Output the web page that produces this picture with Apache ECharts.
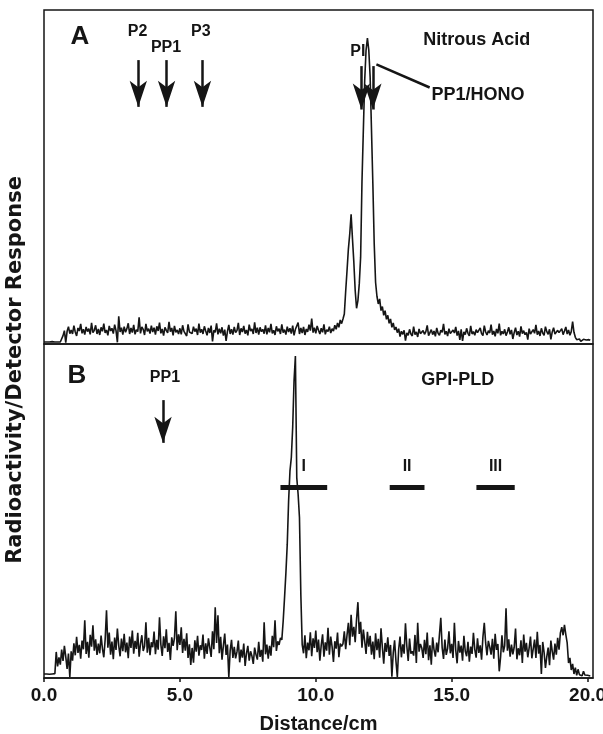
<!DOCTYPE html>
<html><head><meta charset="utf-8">
<script src="https://cdn.jsdelivr.net/npm/echarts@6/dist/echarts.min.js"></script>
<style>html,body{margin:0;padding:0;background:#fff}#c{width:603px;height:734px}</style>
</head><body><div id="c"></div>
<script>
// sampling step of the scanner trace (cm)
const STEP_CM = 0.05;

// Panel A: nitrous acid treated sample (response, arbitrary units 0-100), one row per cm
const responseA = [
 0.6,0.6,0.6,0.5,0.6,0.6,0.7,0.6,0.6,0.7,0.6,0.7,0.6,0.8,2.5,4.0,0.4,3.8,5.2,3.1,
 4.2,3.0,5.5,3.6,2.4,4.8,3.9,6.0,3.2,4.4,2.8,5.1,3.7,4.6,2.9,6.3,3.4,4.1,5.6,3.0,
 4.5,2.7,5.0,3.8,6.1,3.3,4.2,2.6,5.4,3.9,4.7,3.1,5.8,4.0,0.5,8.3,3.6,4.9,2.8,5.2,
 3.5,4.6,6.2,3.0,4.8,3.4,5.7,2.9,4.3,3.7,8.0,3.2,5.1,4.4,2.7,6.0,3.8,4.6,3.1,5.5,
 3.6,4.9,2.8,5.3,3.9,6.4,3.2,4.5,2.5,5.0,4.1,3.3,6.6,3.7,4.8,2.6,5.4,3.5,4.2,3.0,
 4.7,2.9,5.6,3.8,4.3,2.4,5.9,3.6,4.0,3.1,5.2,3.7,4.6,2.7,6.1,3.4,4.4,3.0,5.3,3.9,
 2.6,4.8,3.3,5.5,0.8,4.1,3.5,6.2,2.9,4.6,3.2,5.0,2.5,4.3,0.9,3.8,5.7,3.0,4.4,2.8,
 5.1,3.4,4.0,6.3,2.7,4.7,3.6,5.4,3.1,4.2,2.6,5.8,3.9,4.5,3.0,6.5,3.3,4.9,2.8,5.0,
 3.7,4.4,3.1,5.6,2.9,4.8,3.5,6.0,3.2,4.1,2.7,5.3,3.8,4.6,3.0,5.9,3.4,4.3,2.8,5.2,
 3.6,4.7,3.1,5.5,2.6,4.4,3.9,6.4,3.0,4.8,3.3,5.1,2.7,4.5,3.6,5.8,4.0,7.6,3.4,4.9,
 3.2,5.4,4.1,3.0,4.7,3.5,5.9,2.9,4.3,3.7,5.2,3.3,4.6,3.9,5.6,4.4,6.3,5.0,7.2,6.1,
 7.5,9.0,15.8,22.0,28.5,33.0,38.8,31.5,24.5,16.0,10.7,13.0,18.0,26.0,48.7,64.0,79.0,88.0,91.6,88.0,
 80.0,64.0,48.0,30.0,18.5,14.3,12.0,13.5,10.0,11.2,8.6,10.0,7.4,8.6,6.2,7.5,5.0,6.3,4.2,5.1,
 3.4,4.6,2.2,3.8,2.9,4.1,1.0,3.3,2.6,4.4,3.0,2.4,5.2,2.8,3.6,2.1,4.5,3.1,2.7,4.0,
 2.9,3.7,5.6,2.5,3.4,4.3,2.8,3.9,2.3,4.8,3.2,2.6,4.1,3.5,6.0,2.9,3.8,2.4,4.6,3.1,
 2.7,4.2,3.3,5.1,2.5,3.9,1.2,4.4,0.9,3.6,2.8,4.7,3.2,2.4,5.4,3.0,3.7,2.6,4.3,3.4,
 2.9,4.8,3.1,2.5,5.5,3.6,2.7,4.0,3.3,5.8,2.8,3.9,2.3,4.5,3.2,6.1,2.6,3.8,3.0,4.4,
 2.5,3.6,5.0,2.9,4.2,1.5,3.4,4.9,2.7,3.8,2.2,5.3,3.1,4.0,2.8,3.5,1.3,4.6,3.0,2.6,
 4.3,3.2,5.7,2.8,3.9,2.4,4.7,3.3,2.6,5.2,3.7,2.9,4.4,1.4,3.6,4.9,3.0,2.5,4.1,3.4,
 3.4,4.6,2.8,3.9,5.1,3.0,4.2,2.6,3.7,6.7,3.5,2.0,1.3,1.0,1.5,0.8,1.2,1.4,0.9,1.2,
 1.0,1.3,1.1
];

// Panel B: GPI-PLD treated sample
const responseB = [
 1.2,1.1,1.2,1.3,1.1,1.2,1.2,1.1,1.3,7.8,3.5,6.2,4.0,8.5,5.1,9.6,6.4,2.7,7.3,0.3,
 8.0,5.2,10.4,6.8,12.3,7.5,9.9,5.8,11.2,8.6,17.3,7.2,10.8,6.1,12.9,9.4,15.8,8.2,11.6,6.9,
 10.3,7.4,12.7,8.8,6.2,11.5,20.3,9.1,13.6,7.0,10.9,5.6,12.1,8.4,14.8,9.7,6.5,11.8,8.0,13.2,
 7.7,10.6,5.9,12.4,9.0,14.2,7.3,11.1,8.7,13.5,6.4,10.2,12.8,8.1,9.5,16.7,7.6,12.0,6.8,10.7,
 9.2,13.9,7.1,11.4,8.5,18.2,10.0,6.6,12.5,8.9,14.6,7.8,10.5,5.4,12.2,9.6,11.9,20.0,8.3,13.1,
 9.9,15.2,7.5,11.7,8.2,13.4,6.0,10.1,3.9,9.0,4.6,11.3,7.9,12.6,6.7,9.8,8.4,13.0,5.8,10.4,
 7.2,11.9,9.1,6.3,14.0,8.6,21.2,10.5,18.8,7.4,12.3,5.5,9.7,13.3,6.9,10.0,0.2,8.2,11.4,6.0,
 9.3,5.9,7.8,11.2,4.7,8.5,6.1,10.3,3.6,7.4,9.6,5.2,8.0,6.6,4.2,9.1,7.0,5.5,10.8,6.3,
 8.4,4.9,16.7,7.1,10.0,5.8,9.6,6.7,12.6,9.2,17.3,8.1,11.0,9.9,12.0,11.4,17.0,24.0,31.4,40.0,
 53.0,62.0,66.0,75.0,89.0,96.4,60.0,55.0,48.0,25.0,10.0,7.4,12.8,5.9,10.6,8.3,13.7,6.5,11.9,9.0,
 14.2,7.7,11.5,5.2,9.8,13.1,6.4,10.7,8.2,15.0,7.0,12.4,9.4,4.8,11.0,8.8,13.6,6.2,10.3,9.5,
 10.2,14.0,8.6,12.9,16.5,9.8,18.9,12.4,15.3,10.7,17.6,22.7,13.2,16.8,9.1,14.5,11.0,7.2,13.8,9.4,
 12.6,7.0,10.9,5.6,13.4,8.3,11.7,6.1,14.9,9.2,4.3,10.5,7.8,12.2,6.6,9.9,0.4,7.5,11.3,5.0,
 0.3,8.6,12.4,6.2,10.1,7.3,16.4,9.5,5.1,11.8,7.3,8.0,6.7,12.9,4.5,16.5,7.9,10.2,9.0,6.0,
 11.4,7.1,13.6,5.3,9.8,4.0,12.2,8.5,6.4,10.6,7.7,13.0,18.0,9.1,5.7,11.5,6.9,8.8,14.0,7.4,
 10.2,6.0,16.5,8.3,4.4,11.1,7.6,9.7,5.2,12.6,8.0,6.5,10.8,4.9,9.4,7.2,13.5,8.6,6.1,11.9,
 7.5,9.8,5.5,12.3,16.5,10.5,6.8,11.1,9.3,7.0,11.7,5.8,13.2,8.4,10.2,2.0,6.3,12.8,7.7,9.6,
 20.9,8.2,11.6,6.4,10.0,7.1,9.2,14.8,5.6,8.9,6.8,11.3,4.5,13.0,7.9,10.5,6.2,9.0,12.4,5.9,
 8.7,11.5,6.0,13.8,7.3,9.9,1.2,10.8,7.7,3.0,6.4,9.1,3.8,11.2,8.0,5.5,10.3,7.0,12.0,8.5,
 13.5,15.2,12.8,15.9,13.0,10.5,4.5,6.0,2.4,4.2,1.2,3.1,0.8,2.6,1.0,1.5,0.7,2.0,0.9,1.3,
 0.8,1.1,0.6
];

// axis ticks
const xTickValues = [0, 5, 10, 15, 20];
const xTickLabels = ['0.0', '5.0', '10.0', '15.0', '20.0'];

// Panel A markers (cm)
const markerNamesA = ['P2', 'PP1', 'P3', 'PI'];
const markerPosA = [3.47, 4.51, 5.83, 11.68];
const honoArrowPos = 12.1;
// Panel B markers
const markerNamesB = ['PP1'];
const markerPosB = [4.38];
const fractionNames = ['I', 'II', 'III'];
const fractionStart = [8.70, 12.72, 15.91];
const fractionEnd = [10.42, 14.00, 17.32];

const INK = '#151515';
const FONT = "'Liberation Sans', Arial, Helvetica, sans-serif";
const toPairs = arr => arr.map((v, i) => [+(i * STEP_CM).toFixed(2), v]);

function txt(name, coord, size, align) {
  return {
    coord, symbol: 'rect', symbolSize: 1, itemStyle: {color: 'rgba(0,0,0,0)'},
    label: {show: true, position: 'inside', formatter: name, color: INK, fontFamily: FONT,
      fontWeight: 'bold', fontSize: size, align: align || 'center', verticalAlign: 'middle'}
  };
}
function arrow(x, top, tip) {
  return [{coord: [x, top]}, {coord: [x, tip]}];
}

const arrowStyle = {
  silent: true, symbol: ['none', 'arrow'], symbolSize: [13, 26],
  label: {show: false}, lineStyle: {color: INK, width: 2.5, type: 'solid'},
  emphasis: {disabled: true}
};

const chart = echarts.init(document.getElementById('c'), null, {renderer: 'canvas'});
chart.setOption({
  animation: false,
  backgroundColor: '#fff',
  grid: [
    {left: 44, right: 10, top: 10, height: 334, show: true, borderColor: INK, borderWidth: 1.5,
     backgroundColor: 'transparent', containLabel: false, outerBoundsMode: 'none'},
    {left: 44, right: 10, top: 344, height: 334, show: true, borderColor: INK, borderWidth: 1.5,
     backgroundColor: 'transparent', containLabel: false, outerBoundsMode: 'none'}
  ],
  xAxis: [
    {gridIndex: 0, type: 'value', min: 0, max: 20.2, show: false},
    {gridIndex: 1, type: 'value', min: 0, max: 20.2,
     axisLine: {show: true, lineStyle: {color: INK, width: 1.5}},
     axisTick: {show: true, length: 4, customValues: xTickValues, lineStyle: {color: INK, width: 1.5}},
     splitLine: {show: false},
     axisLabel: {customValues: xTickValues, margin: 8, color: INK, fontFamily: FONT, fontWeight: 'bold', fontSize: 19,
       formatter: v => xTickLabels[xTickValues.indexOf(Math.round(v))] || ''},
     name: 'Distance/cm', nameLocation: 'middle', nameGap: 36,
     nameTextStyle: {color: INK, fontFamily: FONT, fontWeight: 'bold', fontSize: 20}}
  ],
  yAxis: [
    {gridIndex: 0, type: 'value', min: 0, max: 100, show: false},
    {gridIndex: 1, type: 'value', min: 0, max: 100, show: false}
  ],
  graphic: [{
    type: 'text', x: 16, y: 370, rotation: Math.PI / 2,
    style: {text: 'Radioactivity/Detector Response', fill: INK, font: "bold 21px 'DejaVu Sans', sans-serif",
      align: 'center', verticalAlign: 'middle'}
  }],
  series: [
    {
      type: 'line', xAxisIndex: 0, yAxisIndex: 0, data: toPairs(responseA), showSymbol: false, symbol: 'none',
      lineStyle: {color: INK, width: 1.6}, silent: true, clip: true,
      markLine: Object.assign({}, arrowStyle, {
        data: [arrow(markerPosA[0], 85, 71), arrow(markerPosA[1], 85, 71), arrow(markerPosA[2], 85, 71),
               arrow(markerPosA[3], 83.2, 70.2), arrow(honoArrowPos, 83.2, 70.2)]
      }),
      markPoint: {
        silent: true, z: 10,
        data: [
          txt('A', [1.32, 91.9], 26),
          txt(markerNamesA[0], [3.44, 93.4], 16),
          txt(markerNamesA[1], [4.49, 88.6], 16),
          txt(markerNamesA[2], [5.77, 93.4], 16),
          txt(markerNamesA[3], [11.55, 87.6], 16),
          txt('Nitrous Acid', [15.92, 91.0], 18),
          txt('PP1/HONO', [14.26, 74.6], 18, 'left')
        ]
      }
    },
    {
      // leader line from the PP1/HONO arrow to its label
      type: 'line', xAxisIndex: 0, yAxisIndex: 0, data: [], showSymbol: false, silent: true,
      markLine: {silent: true, symbol: 'none', label: {show: false}, emphasis: {disabled: true},
        lineStyle: {color: INK, width: 2.5, type: 'solid'},
        data: [[{coord: [12.23, 83.7]}, {coord: [14.19, 76.8]}]]}
    },
    {
      type: 'line', xAxisIndex: 1, yAxisIndex: 1, data: toPairs(responseB), showSymbol: false, symbol: 'none',
      lineStyle: {color: INK, width: 1.6}, silent: true, clip: true,
      markLine: Object.assign({}, arrowStyle, {
        data: markerPosB.map(x => arrow(x, 83.2, 70.4))
      }),
      markPoint: {
        silent: true, z: 10,
        data: [
          txt('B', [1.21, 90.4], 26),
          txt(markerNamesB[0], [4.45, 89.8], 16),
          txt('GPI-PLD', [15.22, 89.2], 18)
        ].concat(fractionNames.map((n, i) => txt(n, [(fractionStart[i] + fractionEnd[i]) / 2, 63.2], 16)))
      }
    },
    {
      // fraction bars I, II, III
      type: 'line', xAxisIndex: 1, yAxisIndex: 1, data: [], showSymbol: false, silent: true,
      markLine: {silent: true, symbol: 'none', label: {show: false}, emphasis: {disabled: true},
        lineStyle: {color: INK, width: 5, type: 'solid'},
        data: fractionNames.map((n, i) => [{coord: [fractionStart[i], 57.2]}, {coord: [fractionEnd[i], 57.2]}])}
    }
  ]
});
</script>
</body></html>
